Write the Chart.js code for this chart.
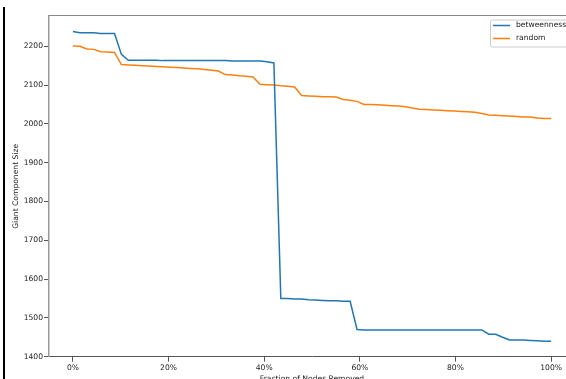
<!DOCTYPE html>
<html><head><meta charset="utf-8">
<script src="https://cdn.jsdelivr.net/npm/chart.js@4"></script>
<style>
html,body{margin:0;padding:0;background:#fff;overflow:hidden;width:566px;height:379px}
#wrap{position:absolute;left:0;top:0;width:620px;height:400px}
#edge{position:absolute;left:3px;top:7px;width:1.5px;height:380px;background:#000}
</style></head><body>
<div id="wrap"><canvas id="c" width="620" height="400"></canvas></div>
<div id="edge"></div>
<script>
const fractionRemoved = [0,1.45,2.90,4.35,5.80,7.25,8.70,10.14,11.59,13.04,14.49,15.94,17.39,18.84,20.29,21.74,23.19,24.64,26.09,27.54,28.99,30.43,31.88,33.33,34.78,36.23,37.68,39.13,40.58,42.03,43.48,44.93,46.38,47.83,49.28,50.72,52.17,53.62,55.07,56.52,57.97,59.42,60.87,62.32,63.77,65.22,66.67,68.12,69.57,71.01,72.46,73.91,75.36,76.81,78.26,79.71,81.16,82.61,84.06,85.51,86.96,88.41,89.86,91.30,92.75,94.20,95.65,97.10,98.55,100];
const betweenness = [2238,2235,2235,2235,2233,2233,2233,2179,2164,2164,2164,2164,2164,2163,2163,2163,2163,2163,2163,2163,2163,2163,2163,2162,2162,2162,2162,2162,2160,2157,1550,1550,1549,1549,1547,1546,1545,1544,1544,1543,1543,1470,1469,1469,1469,1469,1469,1469,1469,1469,1469,1469,1469,1469,1469,1469,1469,1469,1469,1469,1458,1458,1450,1443,1443,1443,1442,1441,1440,1440];
const random = [2201,2200,2193,2192,2186,2185,2184,2153,2152,2151,2150,2149,2148,2147,2146,2145,2144,2143,2142,2140,2138,2136,2127,2126,2124,2123,2121,2102,2101,2100,2098,2097,2095,2073,2072,2071,2070,2070,2069,2063,2061,2058,2050,2050,2049,2048,2047,2046,2044,2041,2038,2037,2036,2035,2034,2033,2032,2031,2030,2027,2023,2022,2021,2020,2019,2018,2018,2015,2014,2014];
const seriesLabels = ['betweenness', 'random'];
const seriesColors = ['#1f77b4', '#ff7f0e'];
const xTicks = [0, 20, 40, 60, 80, 100];
const yTicks = [1400, 1500, 1600, 1700, 1800, 1900, 2000, 2100, 2200];
const xTitle = 'Fraction of Nodes Removed';
const yTitle = 'Giant Component Size';

const FONT = {family: 'DejaVu Sans', size: 7.6};
const TXT = '#222';

const frame = {
  id: 'frame',
  afterDraw(chart) {
    const {ctx, chartArea: a} = chart;
    ctx.save();
    ctx.strokeStyle = '#888';
    ctx.lineWidth = 1;
    ctx.beginPath();
    ctx.moveTo(a.left, a.top - 0.5);
    ctx.lineTo(a.right, a.top - 0.5);
    ctx.stroke();
    // legend
    const bx = 490.5, by = 20, bw = a.right - 4 - bx, bh = 27;
    ctx.fillStyle = 'rgba(255,255,255,0.8)';
    ctx.strokeStyle = '#cccccc';
    ctx.lineWidth = 1;
    ctx.beginPath();
    if (ctx.roundRect) ctx.roundRect(bx, by, bw, bh, 2); else ctx.rect(bx, by, bw, bh);
    ctx.fill();
    ctx.stroke();
    ctx.font = FONT.size + 'px "' + FONT.family + '"';
    ctx.textBaseline = 'middle';
    ctx.textAlign = 'left';
    chart.data.datasets.forEach((ds, i) => {
      const y = 25.5 + i * 13;
      ctx.strokeStyle = ds.borderColor;
      ctx.lineWidth = 1.5;
      ctx.beginPath();
      ctx.moveTo(493, y);
      ctx.lineTo(510, y);
      ctx.stroke();
      ctx.fillStyle = TXT;
      ctx.fillText(ds.label, 516, y);
    });
    ctx.restore();
  }
};

new Chart(document.getElementById('c'), {
  type: 'line',
  data: {
    datasets: [betweenness, random].map((vals, k) => ({
      label: seriesLabels[k],
      data: fractionRemoved.map((x, i) => ({x: x, y: vals[i]})),
      borderColor: seriesColors[k],
      backgroundColor: seriesColors[k],
      borderWidth: 1.5,
      pointRadius: 0,
      tension: 0,
      fill: false
    }))
  },
  options: {
    responsive: false,
    animation: false,
    devicePixelRatio: 1,
    layout: {padding: {left: 0, top: 16, right: 45, bottom: 0}},
    plugins: {legend: {display: false}, tooltip: {enabled: false}},
    scales: {
      x: {
        type: 'linear', min: -5, max: 105,
        afterBuildTicks: s => { s.ticks = xTicks.map(v => ({value: v})); },
        afterFit: s => { s.height = 43.3; },
        ticks: {callback: v => v + '%', font: FONT, color: TXT, padding: 2, maxRotation: 0, autoSkip: false},
        grid: {drawOnChartArea: false, tickLength: 5, tickColor: '#555', tickWidth: 1},
        border: {display: true, color: '#555', width: 1},
        title: {display: true, text: xTitle, font: FONT, color: TXT, padding: {top: 0, bottom: 16.5}}
      },
      y: {
        type: 'linear', min: 1400, max: 2278,
        afterBuildTicks: s => { s.ticks = yTicks.map(v => ({value: v})); },
        afterFit: s => { s.width = 49; },
        ticks: {callback: v => String(v), font: FONT, color: TXT, padding: 1, autoSkip: false},
        grid: {drawOnChartArea: false, tickLength: 5, tickColor: '#555', tickWidth: 1},
        border: {display: true, color: '#999', width: 1.5},
        title: {display: true, text: yTitle, font: FONT, color: TXT, padding: {top: 11, bottom: 0}}
      }
    }
  },
  plugins: [frame]
});
</script>
</body></html>
